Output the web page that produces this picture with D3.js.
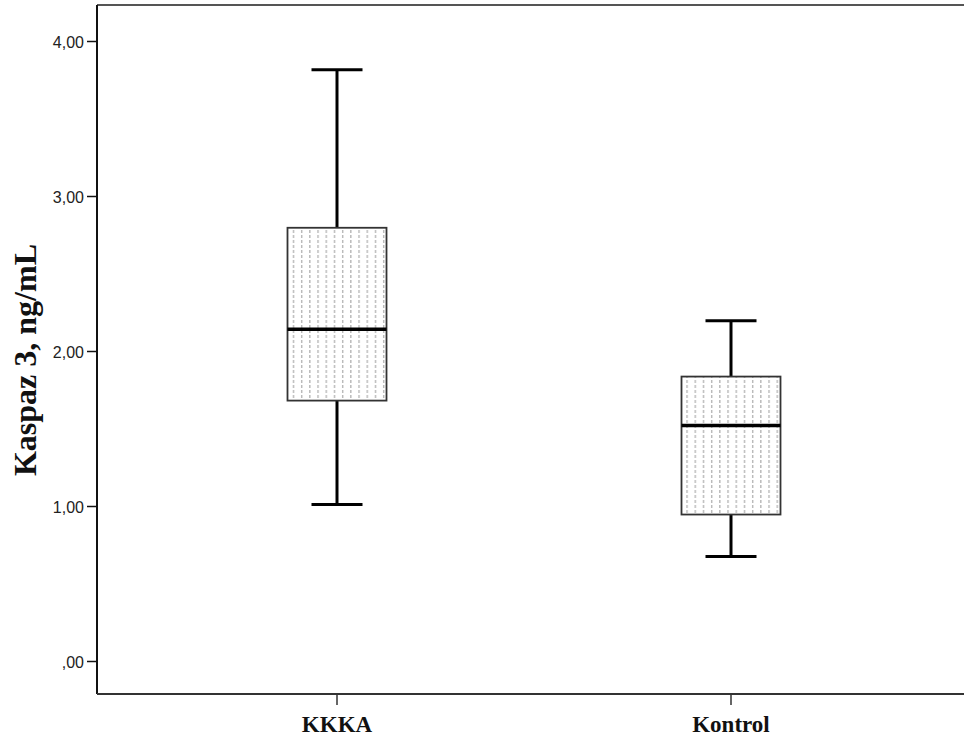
<!DOCTYPE html>
<html><head><meta charset="utf-8">
<script src="https://cdn.jsdelivr.net/npm/d3@7"></script>
<style>body{margin:0;background:#fff}</style>
</head><body><svg id="c" width="964" height="744"></svg>
<script>
const categories = ["KKKA", "Kontrol"];
const whiskerLow = [1.01, 0.675];
const q1 = [1.68, 0.945];
const median = [2.14, 1.52];
const q3 = [2.795, 1.835];
const whiskerHigh = [3.815, 2.195];
const yTicks = [0, 1, 2, 3, 4];

const svg = d3.select("#c");
const pLeft = 97, pRight = 964, pTop = 5, pBottom = 694;
const y = d3.scaleLinear().domain([0, 4]).range([661, 41]);
const x = d3.scaleBand().domain(categories).range([140, 928]).paddingInner(0).paddingOuter(0);
const cx = d => x(d) + x.bandwidth() / 2;

const defs = svg.append("defs");
const pat = defs.append("pattern").attr("id", "dots").attr("patternUnits", "userSpaceOnUse")
  .attr("width", 8.2).attr("height", 5).attr("x", 290).attr("y", 0);
pat.append("rect").attr("x", 3).attr("y", 0).attr("width", 1).attr("height", 3).attr("fill", "#9a9a9a");

svg.append("line").attr("x1", pLeft).attr("x2", pRight).attr("y1", pTop).attr("y2", pTop)
  .attr("stroke", "#555").attr("stroke-width", 2);

const fmt = v => (v === 0 ? "" : String(v)) + ",00";
const yAxis = d3.axisLeft(y).tickValues(yTicks).tickSize(10).tickFormat(fmt);
const ga = svg.append("g").attr("transform", `translate(${pLeft},0)`).call(yAxis);
ga.select(".domain").attr("d", `M0,${pTop}V${pBottom}`).attr("stroke", "#111").attr("stroke-width", 2);
ga.selectAll(".tick line").attr("stroke", "#111").attr("stroke-width", 1.5);
ga.selectAll(".tick text").attr("font-family", "Liberation Sans, Arial, sans-serif").attr("font-size", 16)
  .attr("fill", "#222").attr("x", -13).attr("dy", "0.4em");

const xAxis = d3.axisBottom(x).tickSize(11).tickFormat(d => d);
const gx = svg.append("g").attr("transform", `translate(0,${pBottom})`).call(xAxis);
gx.select(".domain").attr("d", `M${pLeft},0H${pRight}`).attr("stroke", "#333").attr("stroke-width", 2);
gx.selectAll(".tick line").attr("stroke", "#333").attr("stroke-width", 1.5);
gx.selectAll(".tick text").attr("font-family", "Liberation Serif, Times New Roman, serif")
  .attr("font-weight", "bold").attr("font-size", 23).attr("fill", "#111").attr("y", 38).attr("dy", "0");

svg.append("text").attr("transform", "translate(36,360) rotate(-90)").attr("text-anchor", "middle")
  .attr("font-family", "Liberation Serif, Times New Roman, serif").attr("font-weight", "bold")
  .attr("font-size", 32).attr("fill", "#111").text("Kaspaz 3, ng/mL");

const boxW = 99, capW = 51;
const g = svg.append("g");
categories.forEach((c, i) => {
  const m = cx(c);
  g.append("line").attr("x1", m).attr("x2", m).attr("y1", y(whiskerHigh[i])).attr("y2", y(q3[i]))
    .attr("stroke", "#000").attr("stroke-width", 3);
  g.append("line").attr("x1", m).attr("x2", m).attr("y1", y(q1[i])).attr("y2", y(whiskerLow[i]))
    .attr("stroke", "#000").attr("stroke-width", 3);
  [whiskerHigh[i], whiskerLow[i]].forEach(v => {
    g.append("line").attr("x1", m - capW / 2).attr("x2", m + capW / 2).attr("y1", y(v)).attr("y2", y(v))
      .attr("stroke", "#000").attr("stroke-width", 3);
  });
  g.append("rect").attr("x", m - boxW / 2).attr("width", boxW).attr("y", y(q3[i]))
    .attr("height", y(q1[i]) - y(q3[i])).attr("fill", "#fff");
  g.append("rect").attr("x", m - boxW / 2).attr("width", boxW).attr("y", y(q3[i]))
    .attr("height", y(q1[i]) - y(q3[i])).attr("fill", "url(#dots)").attr("stroke", "#333").attr("stroke-width", 1.8);
  g.append("line").attr("x1", m - boxW / 2).attr("x2", m + boxW / 2).attr("y1", y(median[i])).attr("y2", y(median[i]))
    .attr("stroke", "#000").attr("stroke-width", 3.5);
});
</script></body></html>
